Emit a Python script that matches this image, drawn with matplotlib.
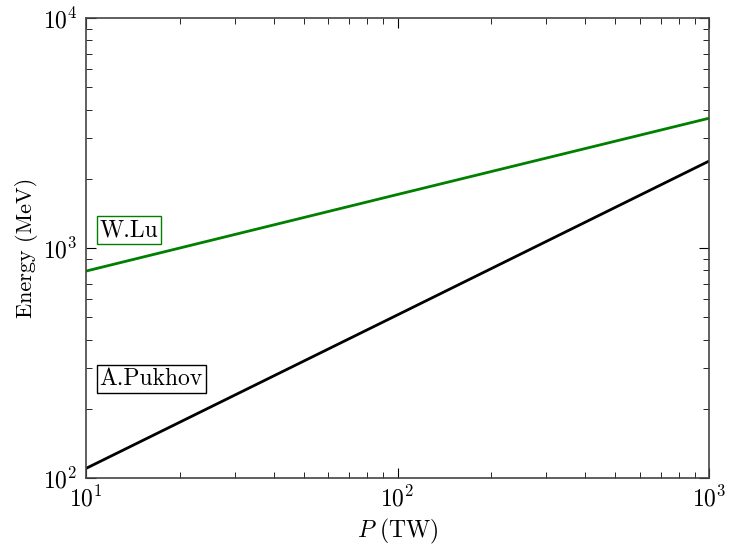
import matplotlib
matplotlib.use('Agg')
import matplotlib.pyplot as plt
import numpy as np

plt.rcParams['font.family'] = 'serif'
plt.rcParams['font.serif'] = ['cmr10']
plt.rcParams['mathtext.fontset'] = 'cm'
plt.rcParams['axes.formatter.use_mathtext'] = True

# power (TW) and energy (MeV)
power = [10, 100, 1000]
e_lu = [794, 1710, 3670]
e_pukhov = [110, 512, 2390]

fig = plt.figure(figsize=(7.31, 5.5), dpi=100)
ax = fig.add_axes([0.1176, 0.131, 0.8524, 0.836])

ax.plot(power, e_lu, color='green', lw=2)
ax.plot(power, e_pukhov, color='black', lw=2)
ax.set_xscale('log')
ax.set_yscale('log')
ax.set_xlim(10, 1000)
ax.set_ylim(100, 10000)

ax.tick_params(which='both', direction='in', top=True, right=True, labelsize=17, pad=6)
ax.tick_params(which='major', length=7)
ax.tick_params(which='minor', length=4)
for s in ax.spines.values():
    s.set_linewidth(1.2)
    s.set_color('#444444')

ax.set_xlabel(r'$P\ (\mathrm{TW})$', fontsize=17)
ax.set_ylabel('Energy (MeV)', fontsize=16)

ax.text(0.022, 0.539, 'W.Lu', transform=ax.transAxes, fontsize=17, va='center',
        bbox=dict(facecolor='white', edgecolor='green', boxstyle='square,pad=0.12'))
ax.text(0.022, 0.215, 'A.Pukhov', transform=ax.transAxes, fontsize=17, va='center',
        bbox=dict(facecolor='white', edgecolor='black', boxstyle='square,pad=0.12'))

plt.savefig('out.png')
